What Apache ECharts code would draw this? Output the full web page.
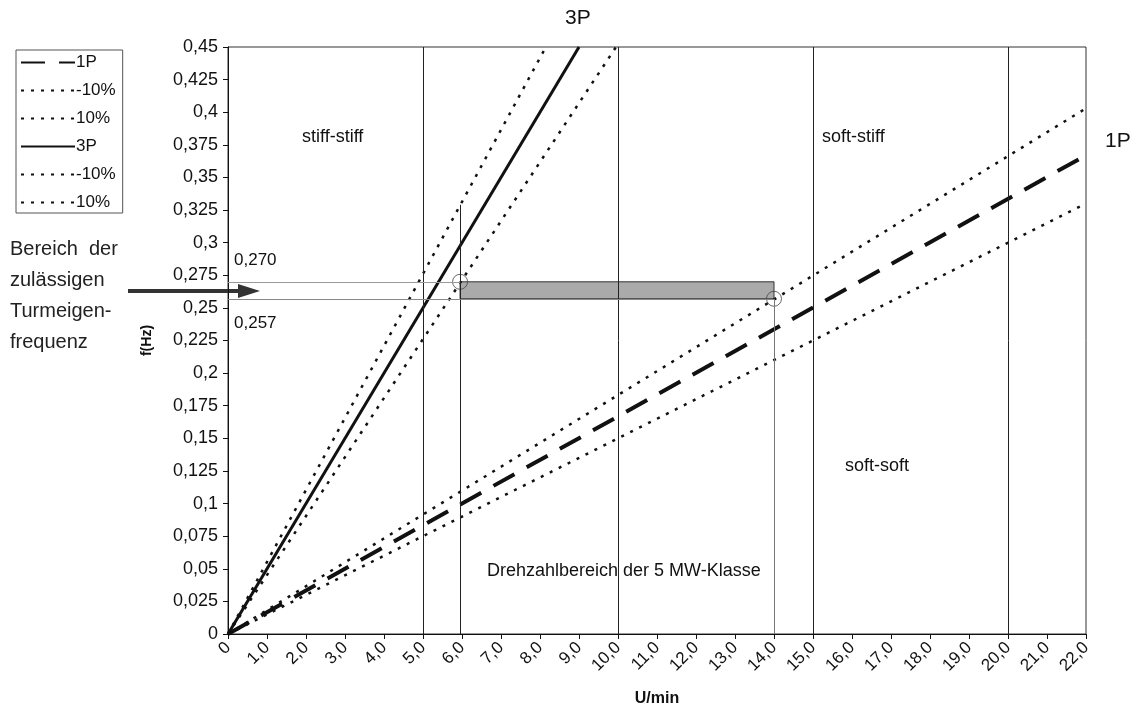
<!DOCTYPE html>
<html>
<head>
<meta charset="utf-8">
<script src="https://cdn.jsdelivr.net/npm/echarts@6/dist/echarts.min.js"></script>
<style>
html, body { margin: 0; padding: 0; background: #fff; }
#main { width: 1137px; height: 706px; }
</style>
</head>
<body>
<div id="main"></div>
<script>
// Werte (Endpunkte der Geraden)
var line1P      = [[0, 0], [22, 0.367]];
var line1Pminus = [[0, 0], [22, 0.330]];
var line1Pplus  = [[0, 0], [22, 0.403]];
var line3P      = [[0, 0], [9.0, 0.45]];
var line3Pminus = [[0, 0], [9.95, 0.45]];
var line3Pplus  = [[0, 0], [8.15, 0.45]];

var zoneBounds = [5, 10, 15, 20];     // U/min
var bandLow = 0.257, bandHigh = 0.270; // Hz
var bandStart = 5.95, bandEnd = 14;    // U/min
var startLineTop = 0.329;
var circles = [[5.95, 0.270], [14, 0.257]];

var FONT = 'Liberation Sans';

function comma(v, d) {
  var s = d === undefined ? String(parseFloat(v.toFixed(3))) : v.toFixed(d);
  return s.replace('.', ',');
}

var myChart = echarts.init(document.getElementById('main'));

var dotted = { color: '#111', width: 2.5, type: [3, 7] };

option = {
  animation: false,
  backgroundColor: '#fff',
  textStyle: { fontFamily: FONT },
  grid: {
    left: 228, right: 51, top: 47, bottom: 72,
    outerBoundsMode: 'none', containLabel: false,
    show: true, borderColor: '#333', borderWidth: 1, backgroundColor: 'transparent'
  },
  legend: {
    orient: 'vertical',
    left: 16, top: 50,
    padding: [4, 7, 2, 4],
    itemWidth: 54, itemHeight: 14, itemGap: 11,
    borderColor: '#555', borderWidth: 1,
    itemStyle: { opacity: 0 },
    textStyle: { fontFamily: FONT, fontSize: 17, color: '#111', padding: [0, 0, 0, -4] },
    formatter: function (n) { return n.indexOf(' ') > 0 ? n.split(' ')[1] : n; },
    data: ['1P', '1P -10%', '1P 10%', '3P', '3P -10%', '3P 10%']
  },
  xAxis: {
    type: 'value', min: 0, max: 22, interval: 1,
    name: 'U/min', nameLocation: 'middle', nameGap: 57,
    nameTextStyle: { fontFamily: FONT, fontSize: 16, fontWeight: 'bold', color: '#111' },
    axisLine: { lineStyle: { color: '#111', width: 1 } },
    axisTick: { show: true, length: 5, lineStyle: { color: '#111' } },
    axisLabel: {
      rotate: 45, fontSize: 17, color: '#111', margin: 11,
      formatter: function (v) { return v === 0 ? '0' : comma(v, 1); }
    },
    splitLine: { show: false }
  },
  yAxis: {
    type: 'value', min: 0, max: 0.45, interval: 0.025,
    name: 'f(Hz)', nameLocation: 'middle', nameGap: 74, nameRotate: 90,
    nameTextStyle: { fontFamily: FONT, fontSize: 14, fontWeight: 'bold', color: '#111' },
    axisLine: { show: true, lineStyle: { color: '#111', width: 1 } },
    axisTick: { show: true, length: 5, lineStyle: { color: '#111' } },
    axisLabel: { fontSize: 18, color: '#111', margin: 10, formatter: function (v) { return comma(v); } },
    splitLine: { show: false }
  },
  series: [
    {
      name: 'help', type: 'line', data: [], silent: true,
      markLine: {
        silent: true, symbol: 'none', label: { show: false },
        lineStyle: { color: '#222', width: 1, type: 'solid' },
        data: zoneBounds.map(function (x) { return { xAxis: x }; }).concat([
          [{ coord: [bandStart, 0] }, { coord: [bandStart, startLineTop] }],
          [{ coord: [bandEnd, 0] }, { coord: [bandEnd, bandLow], lineStyle: { color: '#777' } }],
          [{ coord: [0, bandHigh], lineStyle: { color: '#999', width: 1 } }, { coord: [bandStart, bandHigh] }],
          [{ coord: [0, bandLow], lineStyle: { color: '#888', width: 1 } }, { coord: [bandEnd, bandLow] }]
        ])
      },
      markArea: {
        silent: true,
        itemStyle: { color: '#aaaaaa', borderColor: '#333', borderWidth: 1 },
        data: [[{ coord: [bandStart, bandLow] }, { coord: [bandEnd, bandHigh] }]]
      }
    },
    { name: '1P', type: 'line', data: line1P, symbol: 'none', lineStyle: { color: '#111', width: 4, type: [24, 14] } },
    { name: '1P -10%', type: 'line', data: line1Pminus, symbol: 'none', lineStyle: dotted },
    { name: '1P 10%', type: 'line', data: line1Pplus, symbol: 'none', lineStyle: dotted },
    { name: '3P', type: 'line', data: line3P, symbol: 'none', lineStyle: { color: '#111', width: 3, type: 'solid' } },
    { name: '3P -10%', type: 'line', data: line3Pminus, symbol: 'none', lineStyle: dotted },
    { name: '3P 10%', type: 'line', data: line3Pplus, symbol: 'none', lineStyle: dotted },
    {
      name: 'circles', type: 'scatter', data: circles, symbol: 'circle', symbolSize: 15, silent: true,
      itemStyle: { color: 'rgba(255,255,255,0)', borderColor: '#444', borderWidth: 1 }
    }
  ],
  graphic: [
    { type: 'text', left: 565, top: 8, style: { text: '3P', font: '21px "Liberation Sans"', fill: '#111' } },
    { type: 'text', left: 1105, top: 131, style: { text: '1P', font: '21px "Liberation Sans"', fill: '#111' } },
    { type: 'text', left: 302, top: 128, style: { text: 'stiff-stiff', font: '18px "Liberation Sans"', fill: '#111' } },
    { type: 'text', left: 822, top: 128, style: { text: 'soft-stiff', font: '18px "Liberation Sans"', fill: '#111' } },
    { type: 'text', left: 845, top: 457, style: { text: 'soft-soft', font: '18px "Liberation Sans"', fill: '#111' } },
    { type: 'text', left: 487, top: 562, style: { text: 'Drehzahlbereich der 5 MW-Klasse', font: '18px "Liberation Sans"', fill: '#111' } },
    { type: 'text', left: 234, top: 252, style: { text: '0,270', font: '17px "Liberation Sans"', fill: '#111' } },
    { type: 'text', left: 234, top: 315, style: { text: '0,257', font: '17px "Liberation Sans"', fill: '#111' } },
    { type: 'text', left: 10, top: 234, style: { text: 'Bereich  der\nzulässigen\nTurmeigen-\nfrequenz', font: '20px "Liberation Sans"', fill: '#222', lineHeight: 31 } },
    { type: 'line', shape: { x1: 128, y1: 291, x2: 240, y2: 291 }, style: { stroke: '#333', lineWidth: 4 } },
    { type: 'polygon', shape: { points: [[238, 284], [260, 291], [238, 298]] }, style: { fill: '#333' } }
  ]
};
myChart.setOption(option);
window.onresize = myChart.resize;
</script>
</body>
</html>
